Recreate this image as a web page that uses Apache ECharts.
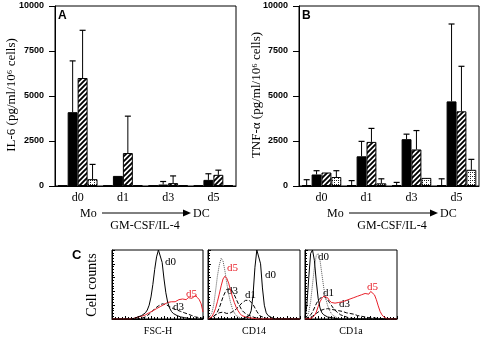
<!DOCTYPE html>
<html><head><meta charset="utf-8">
<script src="https://cdn.jsdelivr.net/npm/echarts@6/dist/echarts.min.js"></script>
<style>html,body{margin:0;padding:0;background:#fff}#c{width:484px;height:337px}</style>
</head><body><div id="c"></div>
<script>
// ---------- DATA ----------
const days = ['d0', 'd1', 'd3', 'd5'];
const yTicks = [0, 2500, 5000, 7500, 10000];
// Panel A: IL-6
const il6_white = [30, 30, 30, 30];
const il6_black = [4100, 560, 80, 340];
const il6_hatch = [6000, 1830, 160, 620];
const il6_dot = [380, 50, 50, 50];
const il6_white_err = [null, null, null, null];
const il6_black_err = [6950, null, 250, 680];
const il6_hatch_err = [8650, 3880, 560, 880];
const il6_dot_err = [1200, null, null, null];
// Panel B: TNF-a
const tnf_white = [50, 50, 50, 50];
const tnf_black = [640, 1650, 2600, 4700];
const tnf_hatch = [750, 2450, 2030, 4150];
const tnf_dot = [500, 150, 450, 900];
const tnf_white_err = [350, 300, 200, 400];
const tnf_black_err = [850, 2480, 2880, 9000];
const tnf_hatch_err = [null, 3200, 3080, 6650];
const tnf_dot_err = [850, 400, null, 1480];
// Panel C histograms (relative counts, 50 channels each)
const fsc_d0 = [0,0,0,0,0,0,0,0,0,0,0,1,1,2,3,4,5,7,9,13,20,32,50,72,90,100,98,82,58,38,24,16,11,8,6,5,4,3,3,2,2,1,1,0,0,0,0,0,0,0];
const fsc_d3 = [0,0,0,0,0,0,0,0,0,0,0,0,0,0,0,0,1,2,3,5,7,9,12,15,17,19,21,22,22,21,20,18,16,15,14,13,12,11,10,9,8,7,6,5,4,3,2,2,1,1];
const fsc_d5 = [0,0,0,0,0,0,0,0,0,0,0,0,1,2,3,4,4,5,6,8,9,11,12,14,15,17,18,20,21,22,24,23,25,26,25,27,28,26,29,30,28,31,33,30,32,34,31,28,22,10];
const cd14_iso = [0,2,8,20,40,62,78,88,84,70,52,36,24,15,9,5,3,2,1,0,0,0,0,0,0,0,0,0,0,0,0,0,0,0,0,0,0,0,0,0,0,0,0,0,0,0,0,0,0,0];
const cd14_d5 = [0,1,3,8,15,25,36,48,58,62,59,52,42,32,24,17,12,8,5,4,3,2,2,1,1,1,0,0,0,0,0,0,0,0,0,0,0,0,0,0,0,0,0,0,0,0,0,0,0,0];
const cd14_d3 = [0,0,1,3,6,10,16,24,32,38,43,45,44,40,35,29,23,18,13,10,8,6,5,4,3,2,2,1,0,0,0,0,0,0,0,0,0,0,0,0,0,0,0,0,0,0,0,0,0,0];
const cd14_d1 = [0,1,2,4,6,8,9,10,10,9,8,8,9,10,12,14,17,20,23,25,27,28,27,25,21,16,11,7,4,3,2,1,0,0,0,0,0,0,0,0,0,0,0,0,0,0,0,0,0,0];
const cd14_d0 = [0,0,0,0,0,0,0,0,0,0,0,0,0,0,0,0,0,0,0,1,2,3,5,12,35,75,100,100,80,45,20,9,5,3,2,1,0,0,0,0,0,0,0,0,0,0,0,0,0,0];
const cd1a_d0 = [2,20,60,95,100,85,55,30,16,9,6,4,3,2,2,1,1,0,0,0,0,0,0,0,0,0,0,0,0,0,0,0,0,0,0,0,0,0,0,0,0,0,0,0,0,0,0,0,0,0];
const cd1a_iso = [0,3,10,25,50,75,92,95,85,65,45,30,20,13,8,5,3,2,1,0,0,0,0,0,0,0,0,0,0,0,0,0,0,0,0,0,0,0,0,0,0,0,0,0,0,0,0,0,0,0];
const cd1a_d1 = [0,1,3,6,10,16,22,27,30,32,33,31,28,24,20,16,13,10,8,6,5,4,3,2,2,1,0,0,0,0,0,0,0,0,0,0,0,0,0,0,0,0,0,0,0,0,0,0,0,0];
const cd1a_d3 = [0,0,1,2,4,6,8,10,12,13,14,15,15,14,14,13,13,12,12,11,11,10,9,9,8,7,7,6,5,5,4,4,3,3,2,2,2,1,1,1,0,0,0,0,0,0,0,0,0,0];
const cd1a_d5 = [0,0,0,1,2,5,10,18,25,30,33,34,31,27,24,22,23,21,24,23,25,24,27,26,29,28,31,30,33,32,35,34,37,39,36,40,38,35,28,19,11,6,3,1,0,0,0,0,0,0];

// ---------- PATTERNS ----------
function hatchPattern() {
  const c = document.createElement('canvas'); c.width = 5; c.height = 5;
  const g = c.getContext('2d');
  g.fillStyle = '#fff'; g.fillRect(0, 0, 5, 5);
  g.strokeStyle = '#000'; g.lineWidth = 1.9;
  g.beginPath();
  g.moveTo(0, 5); g.lineTo(5, 0);
  g.moveTo(-1, 1); g.lineTo(1, -1);
  g.moveTo(4, 6); g.lineTo(6, 4);
  g.stroke();
  return c;
}
function dotPattern() {
  const c = document.createElement('canvas'); c.width = 4; c.height = 4;
  const g = c.getContext('2d');
  g.fillStyle = '#fff'; g.fillRect(0, 0, 4, 4);
  g.fillStyle = '#222';
  g.fillRect(0, 0, 1, 1); g.fillRect(2, 2, 1, 1); g.fillRect(2, 0, 1, 1);
  return c;
}
const HATCH = { image: hatchPattern(), repeat: 'repeat' };
const DOTS = { image: dotPattern(), repeat: 'repeat' };

const chart = echarts.init(document.getElementById('c'), null, { renderer: 'canvas' });
const SERIF = '"Liberation Serif", "DejaVu Serif", serif';
const SANS = '"Liberation Sans", Arial, sans-serif';

function barSeries(data, xi, style, name) {
  return { type: 'bar', name, xAxisIndex: xi, yAxisIndex: xi, data, barWidth: '22%', barGap: '0%',
    itemStyle: Object.assign({ borderColor: '#000', borderWidth: 1 }, style), animation: false, silent: true };
}
function errSeries(xi, vals, errs) {
  const data = [];
  vals.forEach((arr, slot) => {
    arr.forEach((v, ci) => { if (errs[slot][ci] != null) data.push([ci, errs[slot][ci], v, slot]); });
  });
  return { type: 'custom', xAxisIndex: xi, yAxisIndex: xi, z: 5, animation: false, silent: true,
    encode: { x: 0, y: 1 }, data,
    renderItem: function (params, api) {
      const ci = api.value(0), top = api.value(1), base = api.value(2), slot = api.value(3);
      const bw = api.size([1, 0])[0] * 0.22;
      const p1 = api.coord([ci, top]), p0 = api.coord([ci, base]);
      const x = p1[0] + (slot - 1.5) * bw;
      return { type: 'group', children: [
        { type: 'line', shape: { x1: x, y1: p0[1], x2: x, y2: p1[1] }, style: { stroke: '#000', lineWidth: 1 } },
        { type: 'line', shape: { x1: x - 3, y1: p1[1], x2: x + 3, y2: p1[1] }, style: { stroke: '#000', lineWidth: 1.2 } }
      ] };
    } };
}

function catX(gi) {
  return { type: 'category', gridIndex: gi, data: days, boundaryGap: true,
    axisLine: { lineStyle: { color: '#000', width: 1 } },
    axisTick: { alignWithLabel: true, length: 6, lineStyle: { color: '#000' } },
    axisLabel: { color: '#000', fontFamily: SERIF, fontSize: 12, margin: 6 } };
}
function valY(gi) {
  return { type: 'value', gridIndex: gi, min: yTicks[0], max: yTicks[yTicks.length - 1], interval: 2500,
    axisLine: { show: true, lineStyle: { color: '#000' } },
    axisTick: { show: true, length: 6, lineStyle: { color: '#000' } },
    splitLine: { show: false },
    axisLabel: { color: '#000', fontFamily: SANS, fontWeight: 'bold', fontSize: 9, margin: 11,
      formatter: v => String(v) } };
}
function histX(gi) {
  return { type: 'value', gridIndex: gi, min: 0, max: 49, interval: 7,
    axisLine: { show: true, lineStyle: { color: '#000' } },
    axisTick: { show: true, inside: true, length: 3, lineStyle: { color: '#000' } },
    minorTick: { show: true, splitNumber: 4, length: 2, lineStyle: { color: '#000' } },
    axisLabel: { show: false }, splitLine: { show: false } };
}
function histY(gi) {
  return { type: 'value', gridIndex: gi, min: 0, max: 100, interval: 20,
    axisLine: { show: true, lineStyle: { color: '#000' } },
    axisTick: { show: true, inside: true, length: 3, lineStyle: { color: '#000' } },
    minorTick: { show: true, splitNumber: 5, length: 2, lineStyle: { color: '#000' } },
    axisLabel: { show: false }, splitLine: { show: false } };
}
function histLine(gi, arr, color, type, w) {
  return { type: 'line', xAxisIndex: gi, yAxisIndex: gi, data: arr.map((v, i) => [i, v]), showSymbol: false,
    symbol: 'none', animation: false, silent: true, z: type === 'solid' ? 4 : 3,
    lineStyle: { color, type, width: w || 1 } };
}

const gA = { left: 55, top: 6, width: 181, height: 180 };
const gB = { left: 299, top: 6, width: 180, height: 180 };
const gC1 = { left: 112, top: 250, width: 91, height: 69 };
const gC2 = { left: 208, top: 250, width: 92, height: 69 };
const gC3 = { left: 305, top: 250, width: 92, height: 69 };
const border = { show: true, borderColor: '#000', borderWidth: 1, backgroundColor: 'transparent' };

function t(text, x, y, font, opts) {
  return Object.assign({ type: 'text', x, y, silent: true,
    style: Object.assign({ text, font, fill: '#000', textAlign: 'left', textVerticalAlign: 'middle' }, (opts && opts.style) || {}) },
    (opts && opts.el) || {});
}
function arrowGroup(dx) {
  return [
    t('Mo', 80 + dx, 214, '12px ' + SERIF),
    { type: 'line', silent: true, shape: { x1: 102 + dx, y1: 213, x2: 184 + dx, y2: 213 }, style: { stroke: '#000', lineWidth: 1 } },
    { type: 'polygon', silent: true, shape: { points: [[183 + dx, 209.5], [191 + dx, 213], [183 + dx, 216.5]] }, style: { fill: '#000' } },
    t('DC', 193 + dx, 214, '12px ' + SERIF),
    t('GM-CSF/IL-4', 145 + dx, 226, '12px ' + SERIF, { style: { textAlign: 'center' } })
  ];
}

const option = {
  backgroundColor: '#fff',
  animation: false,
  grid: [Object.assign({}, gA, border), Object.assign({}, gB, border),
         Object.assign({}, gC1, border), Object.assign({}, gC2, border), Object.assign({}, gC3, border)],
  xAxis: [catX(0), catX(1), histX(2), histX(3), histX(4)],
  yAxis: [valY(0), valY(1), histY(2), histY(3), histY(4)],
  series: [
    barSeries(il6_white, 0, { color: '#fff' }), barSeries(il6_black, 0, { color: '#000' }),
    barSeries(il6_hatch, 0, { color: HATCH }), barSeries(il6_dot, 0, { color: DOTS }),
    errSeries(0, [il6_white, il6_black, il6_hatch, il6_dot], [il6_white_err, il6_black_err, il6_hatch_err, il6_dot_err]),
    barSeries(tnf_white, 1, { color: '#fff' }), barSeries(tnf_black, 1, { color: '#000' }),
    barSeries(tnf_hatch, 1, { color: HATCH }), barSeries(tnf_dot, 1, { color: DOTS }),
    errSeries(1, [tnf_white, tnf_black, tnf_hatch, tnf_dot], [tnf_white_err, tnf_black_err, tnf_hatch_err, tnf_dot_err]),
    histLine(2, fsc_d5, '#e8202a', 'solid'), histLine(2, fsc_d3, '#000', 'dashed'), histLine(2, fsc_d0, '#000', 'solid'),
    histLine(3, cd14_iso, '#555', 'dotted'), histLine(3, cd14_d5, '#e8202a', 'solid'), histLine(3, cd14_d3, '#000', 'dashed'),
    histLine(3, cd14_d1, '#000', 'dashed'), histLine(3, cd14_d0, '#000', 'solid'),
    histLine(4, cd1a_iso, '#555', 'dotted'), histLine(4, cd1a_d5, '#e8202a', 'solid'), histLine(4, cd1a_d3, '#000', 'dashed'),
    histLine(4, cd1a_d1, '#000', 'dashed'), histLine(4, cd1a_d0, '#000', 'solid')
  ],
  graphic: [
    t('A', 58, 16, 'bold 12px ' + SANS),
    t('B', 302, 16, 'bold 12px ' + SANS),
    t('C', 72, 255, 'bold 13px ' + SANS),
    t('IL-6 (pg/ml/10\u2076 cells)', 12, 95, '13px ' + SERIF, { style: { textAlign: 'center' }, el: { rotation: Math.PI / 2 } }),
    t('TNF-\u03b1 (pg/ml/10\u2076 cells)', 257, 95, '13px ' + SERIF, { style: { textAlign: 'center' }, el: { rotation: Math.PI / 2 } }),
    t('Cell counts', 92, 285, '14px ' + SERIF, { style: { textAlign: 'center' }, el: { rotation: Math.PI / 2 } }),
    t('FSC-H', 158, 331, '10px ' + SERIF, { style: { textAlign: 'center' } }),
    t('CD14', 254, 331, '10px ' + SERIF, { style: { textAlign: 'center' } }),
    t('CD1a', 351, 331, '10px ' + SERIF, { style: { textAlign: 'center' } }),
    t('d0', 165, 262, '11px ' + SERIF),
    t('d5', 186, 294, '11px ' + SERIF, { style: { fill: '#e8202a' } }),
    t('d3', 173, 307, '11px ' + SERIF),
    t('d5', 227, 268, '11px ' + SERIF, { style: { fill: '#e8202a' } }),
    t('d3', 227, 291, '11px ' + SERIF),
    t('d1', 245, 295, '11px ' + SERIF),
    t('d0', 265, 275, '11px ' + SERIF),
    t('d0', 318, 257, '11px ' + SERIF),
    t('d1', 323, 293, '11px ' + SERIF),
    t('d3', 339, 304, '11px ' + SERIF),
    t('d5', 367, 287, '11px ' + SERIF, { style: { fill: '#e8202a' } })
  ].concat(arrowGroup(0), arrowGroup(247))
};
chart.setOption(option);
</script></body></html>
